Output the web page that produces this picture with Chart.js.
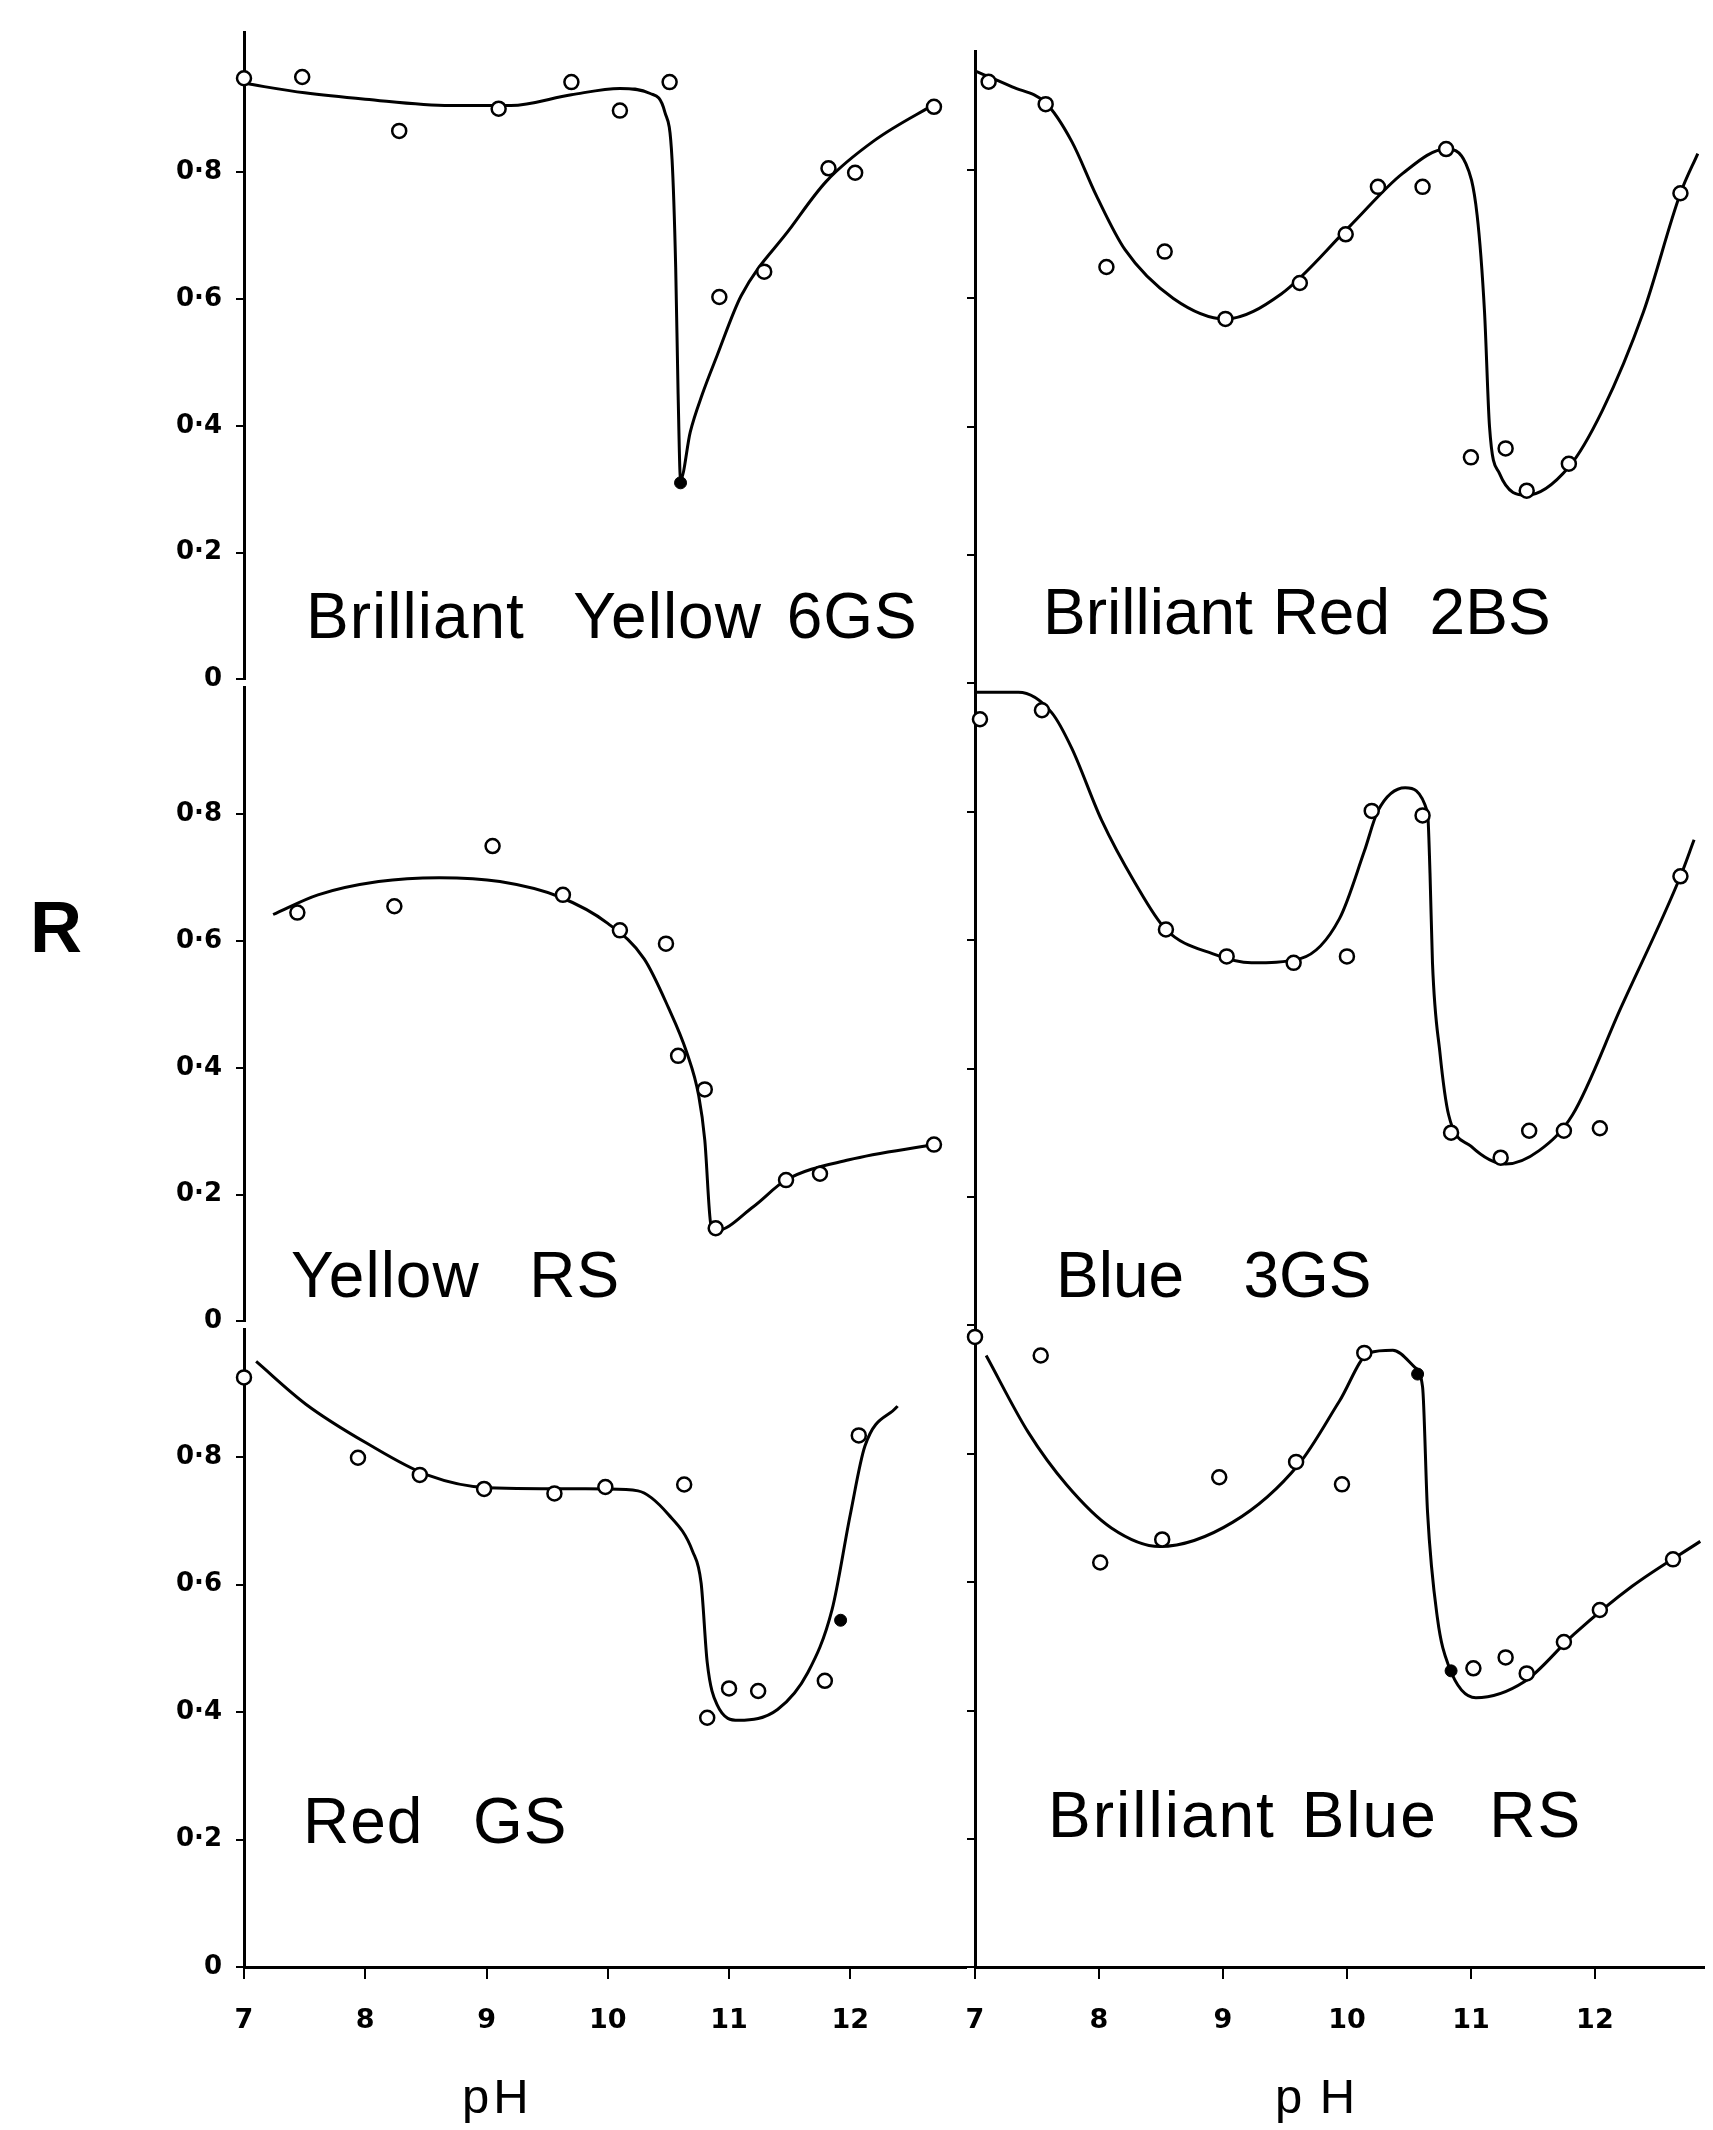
<!DOCTYPE html>
<html lang="en">
<head>
<meta charset="UTF-8">
<title>Reflectance against pH</title>
<script src="https://cdn.jsdelivr.net/npm/chart.js"></script>
<style>
  body { margin: 0; background: #fff; }
  #page { position: relative; width: 1713px; height: 2130px; overflow: hidden; background: #fff; }
  #page canvas { position: absolute; }
  .lbl { position: absolute; font-family: "Liberation Sans", Arial, sans-serif; color: #000; white-space: pre; line-height: 1; }
</style>
</head>
<body>
<div id="page"></div>
<script>
// ticks
const phTicks = [7, 8, 9, 10, 11, 12];
const rTicks = [0, 0.2, 0.4, 0.6, 0.8];
const rTickLabels = ['0', '0·2', '0·4', '0·6', '0·8'];

// Brilliant Yellow 6GS (top left)
const yellow6gsPh = [7.0, 7.48, 8.28, 9.1, 9.7, 10.1, 10.51, 10.92, 11.29, 11.82, 12.04, 12.69];
const yellow6gsR  = [0.948, 0.95, 0.865, 0.9, 0.942, 0.897, 0.942, 0.603, 0.643, 0.806, 0.799, 0.903];
const yellow6gsSolidPh = [10.6];
const yellow6gsSolidR  = [0.31];
const yellow6gsCurvePh = [7.0, 7.5, 8.0, 8.7, 9.2, 9.7, 10.1, 10.35, 10.47, 10.53, 10.56, 10.58, 10.6, 10.68, 10.78, 10.9, 11.1, 11.5, 11.8, 12.2, 12.72];
const yellow6gsCurveR  = [0.94, 0.925, 0.915, 0.905, 0.905, 0.922, 0.932, 0.924, 0.895, 0.82, 0.65, 0.45, 0.315, 0.39, 0.45, 0.51, 0.605, 0.71, 0.785, 0.85, 0.91];

// Brilliant Red 2BS (top right)
const red2bsPh = [7.11, 7.57, 8.06, 8.53, 9.02, 9.62, 9.99, 10.25, 10.61, 10.8, 11.0, 11.28, 11.45, 11.79, 12.69];
const red2bsR  = [0.938, 0.903, 0.649, 0.673, 0.568, 0.624, 0.7, 0.774, 0.774, 0.833, 0.352, 0.366, 0.3, 0.342, 0.764];
const red2bsCurvePh = [7.0, 7.3, 7.57, 7.78, 7.98, 8.21, 8.6, 9.02, 9.47, 10.02, 10.45, 10.8, 10.96, 11.05, 11.11, 11.15, 11.23, 11.45, 11.79, 12.06, 12.39, 12.69, 12.83];
const red2bsCurveR  = [0.955, 0.93, 0.905, 0.845, 0.76, 0.676, 0.6, 0.568, 0.607, 0.712, 0.795, 0.833, 0.81, 0.73, 0.578, 0.4, 0.327, 0.293, 0.337, 0.425, 0.578, 0.764, 0.826];

// Yellow RS (middle left)
const yellowRsPh = [7.44, 8.24, 9.05, 9.63, 10.1, 10.48, 10.58, 10.8, 10.89, 11.47, 11.75, 12.69];
const yellowRsR  = [0.645, 0.655, 0.75, 0.673, 0.617, 0.596, 0.419, 0.366, 0.147, 0.223, 0.233, 0.279];
const yellowRsCurvePh = [7.24, 7.61, 8.11, 8.61, 9.11, 9.6, 10.0, 10.3, 10.5, 10.65, 10.75, 10.8, 10.85, 10.89, 11.2, 11.47, 11.99, 12.69];
const yellowRsCurveR  = [0.642, 0.673, 0.694, 0.7, 0.694, 0.67, 0.628, 0.572, 0.495, 0.425, 0.356, 0.286, 0.153, 0.143, 0.181, 0.223, 0.255, 0.279];

// Blue 3GS (middle right)
const blue3gsPh = [7.04, 7.54, 8.54, 9.03, 9.57, 10.0, 10.2, 10.61, 10.84, 11.24, 11.47, 11.75, 12.04, 12.69];
const blue3gsR  = [0.945, 0.959, 0.617, 0.575, 0.565, 0.575, 0.802, 0.795, 0.3, 0.261, 0.303, 0.303, 0.307, 0.7];
const blue3gsCurvePh = [7.0, 7.35, 7.62, 7.78, 8.02, 8.29, 8.54, 8.92, 9.23, 9.63, 9.94, 10.14, 10.25, 10.47, 10.65, 10.67, 10.69, 10.75, 10.82, 11.0, 11.28, 11.55, 11.82, 12.21, 12.69, 12.8];
const blue3gsCurveR  = [0.987, 0.987, 0.955, 0.9, 0.788, 0.69, 0.617, 0.579, 0.565, 0.572, 0.634, 0.739, 0.802, 0.838, 0.8, 0.705, 0.565, 0.425, 0.328, 0.279, 0.251, 0.272, 0.328, 0.495, 0.7, 0.757];

// Red GS (bottom left)
const redGsPh = [7.0, 7.94, 8.45, 8.98, 9.56, 9.98, 10.63, 10.82, 11.0, 11.24, 11.79, 12.07];
const redGsR  = [0.925, 0.799, 0.772, 0.75, 0.743, 0.753, 0.757, 0.391, 0.437, 0.433, 0.449, 0.834];
const redGsSolidPh = [11.92];
const redGsSolidR  = [0.544];
const redGsCurvePh = [7.1, 7.51, 8.01, 8.51, 9.01, 10.0, 10.25, 10.5, 10.7, 10.77, 10.82, 10.9, 11.08, 11.4, 11.65, 11.85, 12.0, 12.12, 12.39];
const redGsCurveR  = [0.95, 0.883, 0.822, 0.772, 0.752, 0.75, 0.747, 0.71, 0.652, 0.602, 0.478, 0.412, 0.387, 0.404, 0.462, 0.561, 0.71, 0.817, 0.88];

// Brilliant Blue RS (bottom right)
const blueRsPh = [7.0, 7.53, 8.01, 8.51, 8.97, 9.59, 9.96, 10.14, 11.02, 11.28, 11.45, 11.75, 12.04, 12.63];
const blueRsR  = [0.983, 0.954, 0.631, 0.667, 0.764, 0.788, 0.753, 0.958, 0.466, 0.483, 0.458, 0.507, 0.557, 0.636];
const blueRsSolidPh = [10.57, 10.84];
const blueRsSolidR  = [0.925, 0.462];
const blueRsCurvePh = [7.09, 7.43, 7.74, 8.1, 8.49, 9.08, 9.61, 9.94, 10.18, 10.37, 10.55, 10.61, 10.65, 10.73, 10.82, 11.04, 11.43, 11.83, 12.3, 12.85];
const blueRsCurveR  = [0.954, 0.834, 0.752, 0.685, 0.656, 0.694, 0.784, 0.883, 0.958, 0.962, 0.935, 0.905, 0.71, 0.544, 0.47, 0.42, 0.445, 0.519, 0.594, 0.664];

const panels = [
  { col: 'left',  row: 0, rMax: 1.02, ph: yellow6gsPh, r: yellow6gsR, solidPh: yellow6gsSolidPh, solidR: yellow6gsSolidR, curvePh: yellow6gsCurvePh, curveR: yellow6gsCurveR },
  { col: 'right', row: 0, rMax: 0.985, ph: red2bsPh, r: red2bsR, curvePh: red2bsCurvePh, curveR: red2bsCurveR },
  { col: 'left',  row: 1, rMax: 1.0, ph: yellowRsPh, r: yellowRsR, curvePh: yellowRsCurvePh, curveR: yellowRsCurveR },
  { col: 'right', row: 1, rMax: 1.0, ph: blue3gsPh, r: blue3gsR, curvePh: blue3gsCurvePh, curveR: blue3gsCurveR },
  { col: 'left',  row: 2, rMax: 1.0, ph: redGsPh, r: redGsR, solidPh: redGsSolidPh, solidR: redGsSolidR, curvePh: redGsCurvePh, curveR: redGsCurveR },
  { col: 'right', row: 2, rMax: 1.0, ph: blueRsPh, r: blueRsR, solidPh: blueRsSolidPh, solidR: blueRsSolidR, curvePh: blueRsCurvePh, curveR: blueRsCurveR }
];

// page geometry
const PAGE_H = 2130;
const UNIT_Y = 641;     // px per 1.0 of R
const PAD = 26;
const COLS = {
  left:  { axisX: 244, right: 975,  phMax: 12.95,  axisW: 100, labels: true },
  right: { axisX: 975, right: 1713, phMax: 12.876, axisW: 40,  labels: false }
};
const ROWS = [{ zeroY: 683 }, { zeroY: 1325 }, { zeroY: 1967 }];

Chart.defaults.font.family = 'DejaVu Sans';
Chart.defaults.color = '#000';

const page = document.getElementById('page');

function toPoints(xs, ys) {
  return xs.map((x, i) => ({ x: x, y: ys[i] }));
}

function buildPanel(p) {
  const col = COLS[p.col];
  const row = ROWS[p.row];
  const bottomRow = p.row === 2;
  const areaTop = row.zeroY - p.rMax * UNIT_Y;
  const left = col.axisX - col.axisW;
  const top = Math.round(areaTop - PAD);
  const width = col.right - left;
  const height = bottomRow ? PAGE_H - top : Math.round(row.zeroY + PAD - top);

  const canvas = document.createElement('canvas');
  canvas.width = width;
  canvas.height = height;
  canvas.style.left = left + 'px';
  canvas.style.top = top + 'px';
  page.appendChild(canvas);

  const datasets = [{
    type: 'scatter',
    data: toPoints(p.ph, p.r),
    pointStyle: 'circle',
    pointRadius: 7,
    pointBorderWidth: 2.5,
    pointBackgroundColor: '#fff',
    pointBorderColor: '#000',
    clip: false
  }];
  if (p.solidPh) {
    datasets.push({
      type: 'scatter',
      data: toPoints(p.solidPh, p.solidR),
      pointRadius: 6,
      pointBorderWidth: 1,
      pointBackgroundColor: '#000',
      pointBorderColor: '#000',
      clip: false
    });
  }
  datasets.push({
    type: 'line',
    data: toPoints(p.curvePh, p.curveR),
    borderColor: '#000',
    borderWidth: 3,
    pointRadius: 0,
    cubicInterpolationMode: 'monotone',
    fill: false,
    clip: false
  });

  new Chart(canvas, {
    type: 'scatter',
    data: { datasets: datasets },
    options: {
      responsive: false,
      animation: false,
      events: [],
      layout: { padding: { top: areaTop - top, bottom: bottomRow ? 0 : PAD, left: 0, right: 0 } },
      plugins: { legend: { display: false }, tooltip: { enabled: false } },
      scales: {
        x: {
          type: 'linear',
          min: 7,
          max: col.phMax,
          display: bottomRow,
          afterBuildTicks: s => { s.ticks = phTicks.map(v => ({ value: v })); },
          afterFit: s => { if (bottomRow) s.height = PAGE_H - row.zeroY; },
          border: { display: true, color: '#000', width: 3 },
          grid: { drawOnChartArea: false, color: '#000', lineWidth: 2, tickLength: 12 },
          ticks: { autoSkip: false, maxRotation: 0, padding: 26, font: { size: 27, weight: 'bold' } }
        },
        y: {
          type: 'linear',
          min: 0,
          max: p.rMax,
          afterBuildTicks: s => { s.ticks = rTicks.map(v => ({ value: v })); },
          afterFit: s => { s.width = col.axisW; },
          border: { display: true, color: '#000', width: 3 },
          grid: { drawOnChartArea: false, color: '#000', lineWidth: 2, tickLength: 8 },
          ticks: {
            display: col.labels,
            padding: 14,
            font: { size: 26, weight: 'bold' },
            callback: (v, i) => rTickLabels[i]
          }
        }
      }
    }
  });
}

panels.forEach(buildPanel);

// text labels: [left, baseline, size, bold, letterSpacing, wordSpacing]
const labelTexts = ['Brilliant  Yellow 6GS', 'Brilliant Red  2BS', 'Yellow  RS', 'Blue   3GS', 'Red  GS', 'Brilliant Blue  RS', 'R', 'pH', 'p H'];
const labelPos = [
  [306, 638, 64, false, 1, 6], [1043, 634, 64, false, 0, 2],
  [291, 1297, 64, false, 1, 6], [1056, 1297, 64, false, 0, 2],
  [303, 1843, 64, false, 1, 6], [1048, 1837, 64, false, 2, 6],
  [30, 952, 72, true, 0, 0], [462, 2113, 49, false, 4, 0], [1275, 2113, 49, false, 2, 0]
];

labelTexts.forEach((t, i) => {
  const [x, base, size, bold, ls, ws] = labelPos[i];
  const d = document.createElement('div');
  d.className = 'lbl';
  d.textContent = t;
  d.style.left = x + 'px';
  d.style.top = (base - 0.8465 * size) + 'px';
  d.style.fontSize = size + 'px';
  d.style.fontWeight = bold ? 'bold' : 'normal';
  d.style.letterSpacing = ls + 'px';
  d.style.wordSpacing = ws + 'px';
  page.appendChild(d);
});
</script>
</body>
</html>
